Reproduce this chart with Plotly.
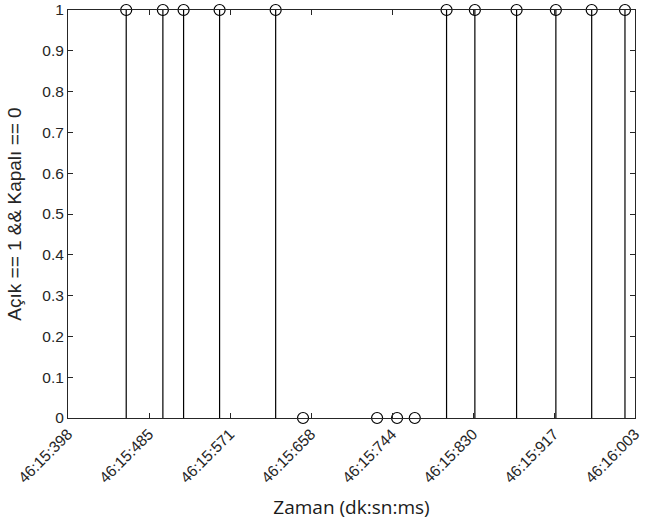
import plotly.graph_objects as go

# time in ms after 46:15:000
times_ms = [460.5, 499.6, 521.7, 560.1, 619.9, 649.1, 728.1, 749.4, 768.3,
            802.2, 832.4, 876.9, 918.8, 957.0, 992.5]
states = [1, 1, 1, 1, 1, 0, 0, 0, 0, 1, 1, 1, 1, 1, 1]

tick_vals = [398.4, 484.8, 571.2, 657.6, 744.0, 830.4, 916.8, 1003.2]
tick_text = ["46:15:398", "46:15:485", "46:15:571", "46:15:658",
             "46:15:744", "46:15:830", "46:15:917", "46:16:003"]
y_ticks = [0, 0.1, 0.2, 0.3, 0.4, 0.5, 0.6, 0.7, 0.8, 0.9, 1]
y_text = ["0", "0.1", "0.2", "0.3", "0.4", "0.5", "0.6", "0.7", "0.8", "0.9", "1"]

axcol = "#262626"
tickfont = dict(family="Liberation Sans, Arial, sans-serif", size=15.5, color=axcol)

fig = go.Figure()
fig.add_trace(go.Scatter(
    x=times_ms, y=states, mode="markers",
    marker=dict(symbol="circle-open", size=11, color="black", line=dict(width=1.2)),
    error_y=dict(type="data", symmetric=False, array=[0] * len(states),
                 arrayminus=states, width=0, thickness=1.2, color="black"),
    cliponaxis=False, showlegend=False, hoverinfo="skip",
))

fig.update_layout(
    width=648, height=525,
    margin=dict(l=68, r=13, t=10, b=107),
    paper_bgcolor="white", plot_bgcolor="white",
    font=dict(family="Liberation Sans, Arial, sans-serif", size=15, color=axcol),
    xaxis=dict(
        range=[tick_vals[0], tick_vals[-1]], tickvals=tick_vals, ticktext=tick_text,
        tickangle=-45, ticks="inside", ticklen=5, tickcolor=axcol,
        showline=True, linecolor=axcol, linewidth=1, mirror="ticks",
        showgrid=False, zeroline=False, automargin=False,
        tickfont=tickfont,
        title=dict(text="Zaman (dk:sn:ms)",
                   font=dict(family="Open Sans, sans-serif", size=19, color="#1a1a1a")),
    ),
    yaxis=dict(
        range=[0, 1], tickvals=y_ticks, ticktext=y_text,
        ticks="inside", ticklen=5, tickcolor=axcol,
        showline=True, linecolor=axcol, linewidth=1, mirror="ticks",
        showgrid=False, zeroline=False, automargin=False,
        tickfont=tickfont,
        title=dict(text="Açık == 1 && Kapalı == 0",
                   font=dict(family="Liberation Sans, Arial, sans-serif", size=19, color=axcol)),
    ),
)

fig.write_html("out.html", config={"displayModeBar": False},
               post_script="document.body.style.margin='0px';document.body.style.overflow='hidden';")
